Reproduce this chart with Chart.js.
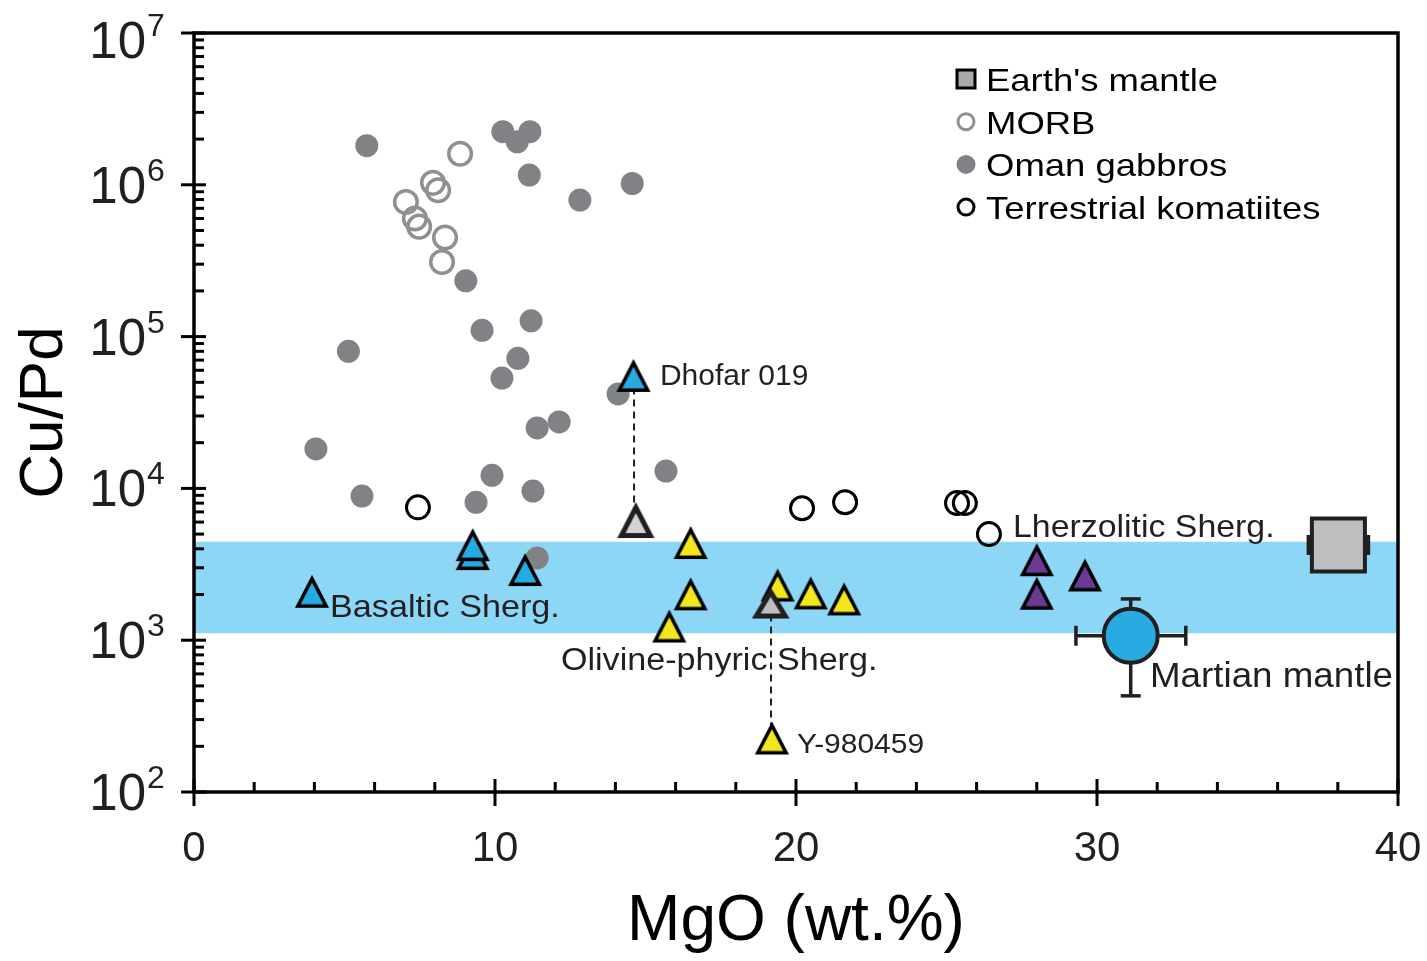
<!DOCTYPE html>
<html>
<head>
<meta charset="utf-8">
<title>Cu/Pd vs MgO</title>
<script src="https://cdn.jsdelivr.net/npm/chart.js@4.4.1/dist/chart.umd.min.js"></script>
<style>
  html, body { margin: 0; padding: 0; background: #fff; }
  #wrap { width: 1427px; height: 961px; }
</style>
</head>
<body>
<div id="wrap"><canvas id="cupd" width="1427" height="961"></canvas></div>
<script>
'use strict';

var FONT = '"Liberation Sans", Arial, Helvetica, sans-serif';
var INK = '#231f20';

// Oman gabbros
var gabbroMgO  = [5.74, 10.26, 11.16, 10.74, 11.14, 14.56, 12.82, 9.03, 11.2, 9.57, 5.13, 10.76,
                  10.23, 14.09, 12.13, 11.4, 4.05, 9.9, 15.68, 11.26, 5.58, 9.37, 11.4];
var gabbroCuPd = [1.81e6, 2.24e6, 2.24e6, 1.92e6, 1.16e6, 1.02e6, 7.94e5, 2.33e5, 1.27e5, 1.10e5, 8.0e4, 7.2e4,
                  5.33e4, 4.19e4, 2.74e4, 2.50e4, 1.82e4, 1.22e4, 1.30e4, 9.6e3, 8.9e3, 8.1e3, 3.48e3];

// MORB
var morbMgO  = [8.84, 7.94, 8.11, 7.04, 7.34, 7.48, 8.34, 8.24];
var morbCuPd = [1.60e6, 1.03e6, 9.2e5, 7.7e5, 6.0e5, 5.3e5, 4.5e5, 3.1e5];

// terrestrial komatiites
var komatiiteMgO  = [7.44, 20.2, 21.63, 25.35, 25.61, 26.41];
var komatiiteCuPd = [7.5e3, 7.4e3, 8.1e3, 8.0e3, 8.0e3, 5.0e3];

// basaltic shergottites (last one is Dhofar 019)
var basalticMgO  = [3.92, 9.26, 9.26, 11.0, 14.6];
var basalticCuPd = [2.10e3, 3.72e3, 4.26e3, 2.92e3, 5.55e4];

// olivine-phyric shergottites (last one is Y-980459)
var olivineMgO  = [16.5, 16.5, 15.79, 19.39, 20.49, 21.6, 19.2];
var olivineCuPd = [4.40e3, 2.02e3, 1.24e3, 2.31e3, 2.05e3, 1.87e3, 227];

// lherzolitic shergottites
var lherzMgO  = [28.0, 28.0, 29.6];
var lherzCuPd = [3.39e3, 2.04e3, 2.69e3];

// corrected values for Dhofar 019 and Y-980459
var correctedMgO  = [14.68, 19.16];
var correctedCuPd = [6.19e3, 1.77e3];

// Earth's and Martian mantle estimates with errors
var earthMgO = 38.02, earthCuPd = 4.24e3, earthMgOErr = 0.99;
var marsMgO = 31.12, marsCuPd = 1.07e3, marsMgOLow = 29.3, marsMgOHigh = 32.95;
var marsCuPdLow = 430, marsCuPdHigh = 1.87e3;

// range of shergottite Cu/Pd (shaded band)
var bandLow = 1.11e3, bandHigh = 4.46e3;

// axes
var xTicks = [0, 10, 20, 30, 40];
var yDecades = [2, 3, 4, 5, 6, 7];

function pts(xs, ys) {
  return xs.map(function (x, i) { return { x: x, y: ys[i] }; });
}

// Taller-than-equilateral triangle marker drawn once into a small canvas
function triangle(fill, stroke, w, h, lw) {
  var c = document.createElement('canvas');
  c.width = w; c.height = h;
  var g = c.getContext('2d');
  var inset = lw / 2 + 1;
  g.beginPath();
  g.moveTo(w / 2, inset + lw * 0.6);
  g.lineTo(w - inset - lw * 0.3, h - inset);
  g.lineTo(inset + lw * 0.3, h - inset);
  g.closePath();
  g.fillStyle = fill;
  g.fill();
  g.lineWidth = lw;
  g.lineJoin = 'miter';
  g.strokeStyle = stroke;
  g.stroke();
  return c;
}

var blueTri = triangle('#27a9e1', '#000', 36, 35, 3.5);
var yellowTri = triangle('#f2e71c', '#000', 36, 35, 3.5);
var purpleTri = triangle('#6c3a93', '#000', 36, 35, 3.5);
var grayTriA = triangle('#d1d3d4', INK, 39, 38, 5);
var grayTriB = triangle('#bcbec0', INK, 39, 34, 5);

// text is set slightly wide (sx = horizontal stretch)
var notes = [
  { text: 'Dhofar 019', x: 15.48, y: 4.8e4, size: 30, sx: 1.0 },
  { text: 'Basaltic Sherg.', x: 4.52, y: 1.42e3, size: 30.5, sx: 1.12 },
  { text: 'Olivine-phyric Sherg.', x: 12.19, y: 637, size: 31, sx: 1.1 },
  { text: 'Y-980459', x: 20.03, y: 181, size: 28, sx: 1.07 },
  { text: 'Lherzolitic Sherg.', x: 27.21, y: 4.79e3, size: 30.5, sx: 1.11 },
  { text: 'Martian mantle', x: 31.76, y: 492, size: 35, sx: 1.05 }
];

var legendItems = ["Earth's mantle", 'MORB', 'Oman gabbros', 'Terrestrial komatiites'];

function wideText(ctx, text, x, y, sx) {
  ctx.save();
  ctx.translate(x, y);
  ctx.scale(sx, 1);
  ctx.fillText(text, 0, 0);
  ctx.restore();
}

// frame, tick marks, log tick labels
var axesFrame = {
  id: 'axesFrame',
  afterDatasetsDraw: function (chart) {
    var ctx = chart.ctx, a = chart.chartArea;
    var xs = chart.scales.x, ys = chart.scales.y;
    ctx.save();
    ctx.strokeStyle = '#000';
    ctx.lineWidth = 3.5;
    ctx.strokeRect(a.left, a.top, a.right - a.left, a.bottom - a.top);

    ctx.lineWidth = 3;
    for (var v = 0; v <= 40; v += 2) {
      var px = xs.getPixelForValue(v);
      var major = v % 10 === 0;
      ctx.beginPath();
      ctx.moveTo(px, major ? a.bottom + 14 : a.bottom);
      ctx.lineTo(px, a.bottom - (major ? 13 : 10));
      ctx.stroke();
    }

    yDecades.forEach(function (e) {
      var py = ys.getPixelForValue(Math.pow(10, e));
      ctx.beginPath();
      ctx.moveTo(a.left - 13, py);
      ctx.lineTo(a.left + 12, py);
      ctx.stroke();
      if (e === yDecades[yDecades.length - 1]) return;
      for (var k = 2; k <= 9; k++) {
        var pm = ys.getPixelForValue(k * Math.pow(10, e));
        ctx.beginPath();
        ctx.moveTo(a.left, pm);
        ctx.lineTo(a.left + 10, pm);
        ctx.stroke();
      }
    });

    ctx.fillStyle = INK;
    ctx.textBaseline = 'alphabetic';
    yDecades.forEach(function (e) {
      var py = ys.getPixelForValue(Math.pow(10, e));
      var base = Math.max(py + 18, 58);
      ctx.font = '51px ' + FONT;
      ctx.textAlign = 'right';
      ctx.fillText('10', a.left - 48, base);
      ctx.font = '32px ' + FONT;
      ctx.textAlign = 'left';
      ctx.fillText(String(e), a.left - 47, base - 22);
    });
    ctx.restore();
  }
};

// point labels and legend box
var annotations = {
  id: 'annotations',
  afterDraw: function (chart) {
    var ctx = chart.ctx, a = chart.chartArea;
    var xs = chart.scales.x, ys = chart.scales.y;
    ctx.save();
    ctx.fillStyle = INK;
    ctx.textAlign = 'left';
    ctx.textBaseline = 'alphabetic';
    notes.forEach(function (n) {
      ctx.font = n.size + 'px ' + FONT;
      wideText(ctx, n.text, xs.getPixelForValue(n.x), ys.getPixelForValue(n.y), n.sx);
    });

    var mx = a.right - 432;
    var rows = [a.top + 58, a.top + 100.7, a.top + 143.4, a.top + 186.1];
    legendItems.forEach(function (label, i) {
      var cy = rows[i] - 12;
      ctx.beginPath();
      if (i === 0) {
        ctx.fillStyle = '#a7a9ac';
        ctx.fillRect(mx - 9, cy - 9, 18, 18);
        ctx.lineWidth = 3;
        ctx.strokeStyle = '#000';
        ctx.strokeRect(mx - 9, cy - 9, 18, 18);
      } else if (i === 1) {
        ctx.arc(mx, cy, 8, 0, Math.PI * 2);
        ctx.lineWidth = 3;
        ctx.strokeStyle = '#8e9093';
        ctx.stroke();
      } else if (i === 2) {
        ctx.arc(mx, cy, 9.5, 0, Math.PI * 2);
        ctx.fillStyle = '#808285';
        ctx.fill();
      } else {
        ctx.arc(mx, cy, 8, 0, Math.PI * 2);
        ctx.lineWidth = 3;
        ctx.strokeStyle = '#000';
        ctx.stroke();
      }
      ctx.fillStyle = '#000';
      ctx.font = '32px ' + FONT;
      wideText(ctx, label, mx + 20, rows[i], 1.14);
    });
    ctx.restore();
  }
};

function errLine(data, rotation, width, order) {
  return {
    type: 'line',
    data: data,
    borderColor: INK,
    borderWidth: width,
    pointStyle: 'line',
    pointRadius: 10,
    pointRotation: rotation,
    pointBorderColor: INK,
    pointBorderWidth: width,
    fill: false,
    order: order
  };
}

function dashed(x, yTop, yBottom) {
  return {
    type: 'line',
    data: [{ x: x, y: yTop }, { x: x, y: yBottom }],
    borderColor: INK,
    borderWidth: 2,
    borderDash: [7, 5],
    pointRadius: 0,
    fill: false,
    order: 12
  };
}

new Chart(document.getElementById('cupd'), {
  type: 'scatter',
  data: {
    datasets: [
      {
        type: 'line',
        data: [{ x: 0, y: bandHigh }, { x: 40, y: bandHigh }],
        fill: { value: bandLow },
        backgroundColor: '#8dd7f6',
        borderWidth: 0,
        pointRadius: 0,
        order: 20
      },
      {
        data: pts(gabbroMgO, gabbroCuPd),
        pointStyle: 'circle',
        pointRadius: 11.5,
        pointBackgroundColor: '#808285',
        pointBorderWidth: 0,
        order: 16
      },
      {
        data: pts(morbMgO, morbCuPd),
        pointStyle: 'circle',
        pointRadius: 11.3,
        pointBackgroundColor: 'rgba(255,255,255,0)',
        pointBorderColor: '#8e9093',
        pointBorderWidth: 3.5,
        order: 15
      },
      {
        data: pts(komatiiteMgO, komatiiteCuPd),
        pointStyle: 'circle',
        pointRadius: 11.5,
        pointBackgroundColor: 'rgba(255,255,255,0)',
        pointBorderColor: '#000',
        pointBorderWidth: 3,
        order: 14
      },
      dashed(14.62, basalticCuPd[4], correctedCuPd[0]),
      dashed(19.17, correctedCuPd[1], olivineCuPd[6]),
      {
        data: pts(correctedMgO, correctedCuPd),
        pointStyle: [grayTriA, grayTriB],
        pointRadius: 16,
        order: 9
      },
      {
        data: pts(basalticMgO, basalticCuPd),
        pointStyle: blueTri,
        pointRadius: 16,
        order: 8
      },
      {
        data: pts(olivineMgO, olivineCuPd),
        pointStyle: yellowTri,
        pointRadius: 16,
        order: 10
      },
      {
        data: pts(lherzMgO, lherzCuPd),
        pointStyle: purpleTri,
        pointRadius: 16,
        order: 7
      },
      errLine([{ x: earthMgO - earthMgOErr, y: earthCuPd }, { x: earthMgO + earthMgOErr, y: earthCuPd }], 90, 4, 6),
      {
        data: [{ x: earthMgO, y: earthCuPd }],
        pointStyle: 'rect',
        pointRadius: 37.5,
        pointBackgroundColor: '#bcbec0',
        pointBorderColor: INK,
        pointBorderWidth: 4,
        order: 5
      },
      errLine([{ x: marsMgOLow, y: marsCuPd }, { x: marsMgOHigh, y: marsCuPd }], 90, 3.5, 4),
      errLine([{ x: marsMgO, y: marsCuPdLow }, { x: marsMgO, y: marsCuPdHigh }], 0, 3.5, 4),
      {
        data: [{ x: marsMgO, y: marsCuPd }],
        pointStyle: 'circle',
        pointRadius: 27,
        pointBackgroundColor: '#29aae1',
        pointBorderColor: INK,
        pointBorderWidth: 4,
        order: 2
      }
    ]
  },
  options: {
    responsive: false,
    animation: false,
    devicePixelRatio: 1,
    events: [],
    layout: { autoPadding: false, padding: { left: 0, right: 29, top: 33, bottom: 0 } },
    plugins: {
      legend: { display: false },
      tooltip: { enabled: false }
    },
    scales: {
      x: {
        type: 'linear',
        min: 0,
        max: 40,
        afterBuildTicks: function (scale) {
          scale.ticks = xTicks.map(function (v) { return { value: v }; });
        },
        afterFit: function (scale) {
          scale.height = 169;
          scale.paddingLeft = 0;
          scale.paddingRight = 0;
        },
        grid: { display: false, drawTicks: false },
        border: { display: false },
        ticks: {
          color: INK,
          padding: 32,
          maxRotation: 0,
          font: { family: FONT, size: 42 }
        },
        title: {
          display: true,
          text: 'MgO (wt.%)',
          color: '#000',
          padding: { top: 0, bottom: 0 },
          font: { family: FONT, size: 64 }
        }
      },
      y: {
        type: 'logarithmic',
        min: 100,
        max: 1e7,
        afterFit: function (scale) { scale.width = 194; },
        grid: { display: false, drawTicks: false },
        border: { display: false },
        ticks: { display: false },
        title: {
          display: true,
          text: 'Cu/Pd',
          color: '#000',
          padding: { top: 8, bottom: 0 },
          font: { family: FONT, size: 62 }
        }
      }
    }
  },
  plugins: [axesFrame, annotations]
});
</script>
</body>
</html>
